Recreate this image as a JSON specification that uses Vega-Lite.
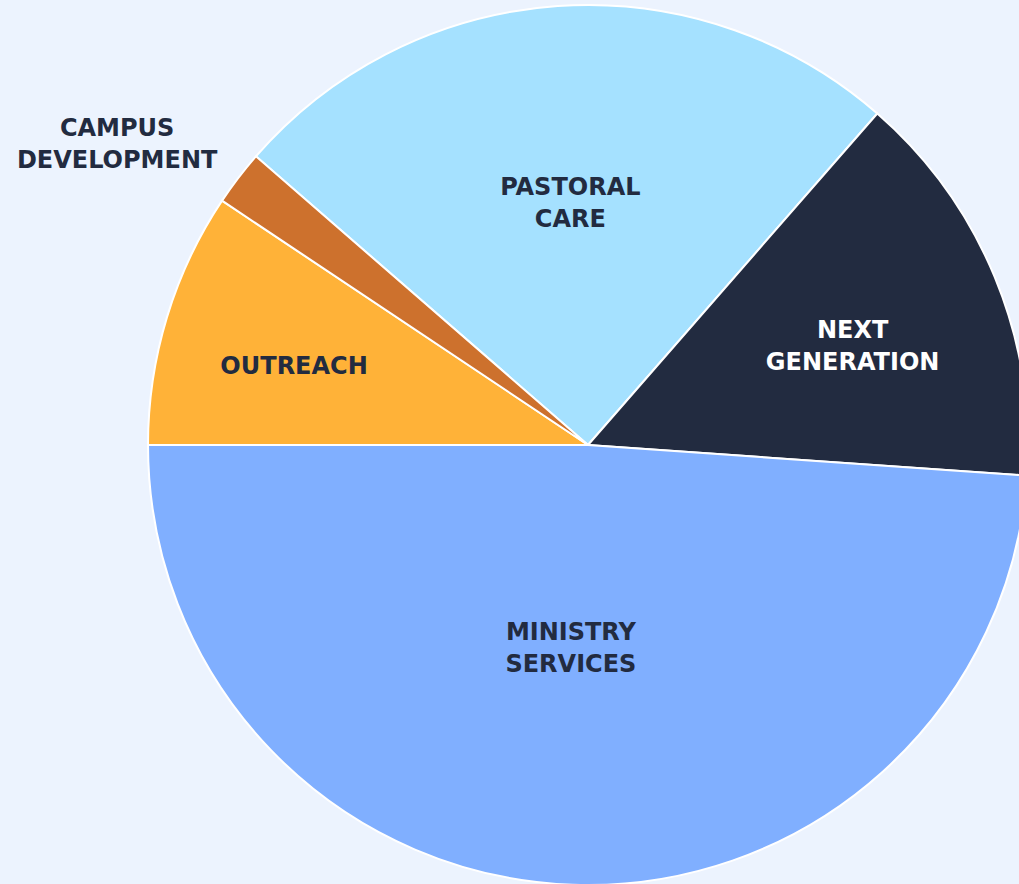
{
  "$schema": "https://vega.github.io/schema/vega-lite/v6.json",
  "width": 1176,
  "height": 890,
  "autosize": {"type": "none"},
  "padding": 0,
  "background": "#ECF3FE",
  "view": {"stroke": null},
  "config": {"text": {"font": "DejaVu Sans", "fontWeight": "bold", "fontSize": 24, "lineHeight": 32, "lineBreak": "\n", "align": "center", "baseline": "middle"}},
  "data": {"values": [
    {"k": 1, "cat": "Pastoral Care", "label": "PASTORAL\nCARE", "pct": 25.03},
    {"k": 2, "cat": "Next Generation", "label": "NEXT\nGENERATION", "pct": 14.69},
    {"k": 3, "cat": "Ministry Services", "label": "MINISTRY\nSERVICES", "pct": 48.89},
    {"k": 4, "cat": "Outreach", "label": "OUTREACH", "pct": 9.37},
    {"k": 5, "cat": "Campus Development", "label": "CAMPUS\nDEVELOPMENT", "pct": 2.02}
  ]},
  "encoding": {
    "theta": {"field": "pct", "type": "quantitative", "stack": true, "scale": {"domain": [0, 100], "range": [-0.8552, 5.4280], "nice": false}},
    "order": {"field": "k", "type": "ordinal"}
  },
  "layer": [
    {
      "mark": {"type": "arc", "outerRadius": 440, "stroke": "#ffffff", "strokeWidth": 2},
      "encoding": {
        "color": {"field": "cat", "type": "nominal", "legend": null,
          "scale": {"domain": ["Pastoral Care", "Next Generation", "Ministry Services", "Outreach", "Campus Development"],
                    "range": ["#A5E1FF", "#222B40", "#80AFFF", "#FFB238", "#CD712D"]}}
      }
    },
    {
      "mark": {"type": "text", "radius": 242, "dx": -1, "dy": -16, "color": "#222B40"},
      "encoding": {"text": {"condition": {"test": "datum.k == 1", "field": "label"}, "value": ""}}
    },
    {
      "mark": {"type": "text", "radius": 282, "dx": 4, "dy": -6, "color": "#FFFFFF"},
      "encoding": {"text": {"condition": {"test": "datum.k == 2", "field": "label"}, "value": ""}}
    },
    {
      "mark": {"type": "text", "radius": 204, "dx": -10, "dy": -16, "color": "#222B40"},
      "encoding": {"text": {"condition": {"test": "datum.k == 3", "field": "label"}, "value": ""}}
    },
    {
      "mark": {"type": "text", "radius": 304, "dx": -3, "dy": 10, "color": "#222B40"},
      "encoding": {"text": {"condition": {"test": "datum.k == 4", "field": "label"}, "value": ""}}
    },
    {
      "mark": {"type": "text", "radius": 556, "dx": -29, "dy": 21, "color": "#222B40"},
      "encoding": {"text": {"condition": {"test": "datum.k == 5", "field": "label"}, "value": ""}}
    }
  ]
}
